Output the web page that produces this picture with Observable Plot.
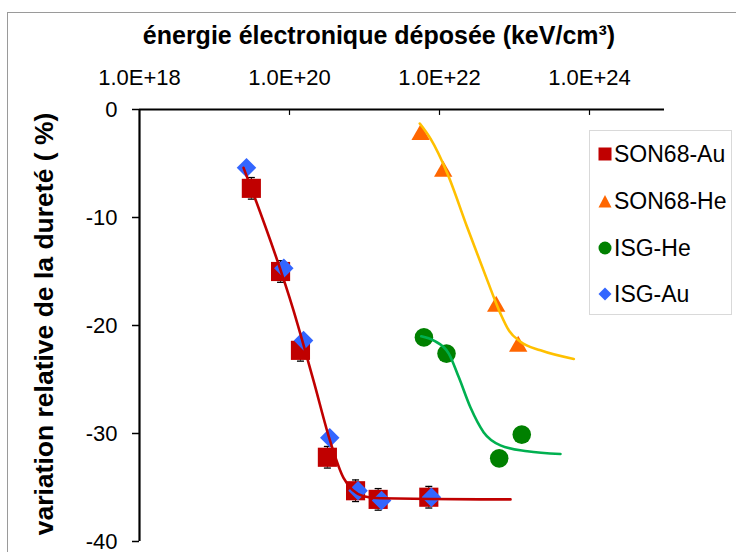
<!DOCTYPE html>
<html>
<head>
<meta charset="utf-8">
<script src="https://cdn.jsdelivr.net/npm/d3@7"></script>
<script src="https://cdn.jsdelivr.net/npm/@observablehq/plot@0.6"></script>
<style>
  html, body { margin: 0; padding: 0; background: #fff; }
  #wrap { position: relative; width: 736px; height: 552px; overflow: hidden; font-family: "Liberation Sans", Arial, sans-serif; }
  #chart > svg { position: absolute; left: 0; top: 0; }
  .bl { position: absolute; background: #9a9a9a; }
  #title { position: absolute; left: 0; width: 758px; top: 21px; text-align: center; font-weight: bold; font-size: 25px; color: #000; white-space: nowrap; }
  #ylab { position: absolute; left: 44px; top: 324px; transform: translate(-50%, -50%) rotate(-90deg); font-weight: bold; font-size: 26.5px; white-space: nowrap; color: #000; }
  #legend { position: absolute; left: 589px; top: 130px; width: 143px; height: 185px; border: 1px solid #d9d9d9; background: #fff; box-sizing: border-box; }
  .item { position: absolute; left: 8px; height: 26px; display: flex; align-items: center; font-size: 23px; color: #000; white-space: nowrap; }
  .item svg { margin-right: 2px; flex: none; }
</style>
</head>
<body>
<div id="wrap">
  <div class="bl" style="left:7px; top:12px; width:729px; height:1px;"></div>
  <div class="bl" style="left:7px; top:12px; width:1px; height:540px;"></div>
  <div id="chart"></div>
  <div id="title">énergie électronique déposée (keV/cm³)</div>
  <div id="ylab">variation relative de la dureté ( %)</div>
  <div id="legend"></div>
</div>
<script>
// ---- data ----
const xTicks = [1e18, 1e20, 1e22, 1e24];
const xTickLabels = ["1.0E+18", "1.0E+20", "1.0E+22", "1.0E+24"];
const yTicks = [0, -10, -20, -30, -40];
const yTickLabels = ["0", "-10", "-20", "-30", "-40"];

const seriesNames = ["SON68-Au", "SON68-He", "ISG-He", "ISG-Au"];

const son68AuX = [3.1e19, 7.6e19, 1.4e20, 3.2e20, 7.6e20, 1.52e21, 7.2e21];
const son68AuY = [-7.3, -15.0, -22.3, -32.2, -35.3, -36.1, -35.9];
const son68AuErr = [1.0, 1.0, 1.0, 1.0, 1.0, 1.0, 1.0];

const isgAuX = [2.67e19, 8.4e19, 1.54e20, 3.44e20, 8.2e20, 1.69e21, 7.8e21];
const isgAuY = [-5.4, -14.7, -21.4, -30.4, -35.3, -36.2, -35.9];

const son68HeX = [5.6e21, 1.12e22, 5.7e22, 1.12e23];
const son68HeY = [-2.1, -5.5, -18.0, -21.7];

const isgHeX = [6.2e21, 1.24e22, 6.25e22, 1.25e23];
const isgHeY = [-21.1, -22.6, -32.3, -30.1];

// trend curves, points
const fitAuX = [2.44e19, 1.13e20, 2.09e20, 3.52e20, 5.25e20, 9.7e20, 1.63e21, 3.5e22, 8.85e22];
const fitAuY = [-5.4, -18.6, -25.1, -30.8, -34.1, -35.8, -36.0, -36.1, -36.1];

const fitSonHeX = [5.46e21, 7.59e21, 1.27e22, 2.34e22, 4.33e22, 6.5e22, 8.4e22, 1.2e23, 2.22e23, 6.18e23];
const fitSonHeY = [-1.3, -2.7, -5.9, -10.9, -15.8, -18.9, -20.45, -21.5, -22.3, -23.1];

const fitIsgHeX = [5.7e21, 8.4e21, 1.33e22, 1.81e22, 2.59e22, 3.89e22, 6.5e22, 1.48e23, 4.1e23];
const fitIsgHeY = [-21.0, -21.4, -22.6, -24.8, -27.6, -29.9, -31.1, -31.65, -31.9];

const colors = { son68Au: "#c00000", son68He: "#ff6600", isgHe: "#008000", isgAu: "#3366ff",
                 fitAu: "#c00000", fitSonHe: "#ffc000", fitIsgHe: "#00b050" };

// ---- tables ----
const zip = (xs, ys) => xs.map((x, i) => ({ x, y: ys[i] }));
const son68Au = son68AuX.map((x, i) => ({ x, y: son68AuY[i], err: son68AuErr[i] }));
const isgAu = zip(isgAuX, isgAuY);
const son68He = zip(son68HeX, son68HeY);
const isgHe = zip(isgHeX, isgHeY);
const fitAu = zip(fitAuX, fitAuY);
const fitSonHe = zip(fitSonHeX, fitSonHeY);
const fitIsgHe = zip(fitIsgHeX, fitIsgHeY);

const capSymbol = { draw(ctx) { ctx.moveTo(-3.5, 0); ctx.lineTo(3.5, 0); } };

const chart = Plot.plot({
  width: 736,
  height: 552,
  marginTop: 109,
  marginBottom: 11,
  marginLeft: 139,
  marginRight: 72,
  style: { fontFamily: "'Liberation Sans', Arial, sans-serif", fontSize: "22px", background: "transparent", color: "#000", overflow: "visible" },
  x: { type: "log", domain: [1e18, 1e25] },
  y: { domain: [-40, 0] },
  marks: [
    // axes
    Plot.axisY(yTicks, { tickSize: 7, tickPadding: 15, tickFormat: d => yTickLabels[yTicks.indexOf(d)], fontSize: 22, strokeWidth: 1.5, label: null }),
    Plot.axisX(xTicks, { anchor: "top", tickSize: 0, tickPadding: 25, tickFormat: d => xTickLabels[xTicks.indexOf(d)], fontSize: 22, label: null }),
    Plot.ruleX(xTicks.slice(1), { y1: 0, y2: -0.55, stroke: "#000", strokeWidth: 1.2 }),
    Plot.ruleY([0], { stroke: "#000", strokeWidth: 2.2 }),
    Plot.ruleX([1e18], { y1: -40, y2: 0, stroke: "#000", strokeWidth: 2.2 }),
    // error bars
    Plot.ruleX(son68Au, { x: "x", y1: d => d.y - d.err, y2: d => d.y + d.err, stroke: "#000", strokeWidth: 1 }),
    Plot.dot(son68Au, { x: "x", y: d => d.y - d.err, symbol: capSymbol, stroke: "#000", strokeWidth: 1.3 }),
    Plot.dot(son68Au, { x: "x", y: d => d.y + d.err, symbol: capSymbol, stroke: "#000", strokeWidth: 1.3 }),
    // markers
    Plot.dot(son68Au, { x: "x", y: "y", symbol: "square", r: 10.8, fill: colors.son68Au }),
    Plot.dot(son68He, { x: "x", y: "y", symbol: "triangle", r: 6.8, dy: 2.5, fill: colors.son68He }),
    Plot.dot(isgHe, { x: "x", y: "y", symbol: "circle", r: 9.3, fill: colors.isgHe }),
    Plot.dot(isgAu, { x: "x", y: "y", symbol: "diamond2", r: 8.8, fill: colors.isgAu }),
    // trend curves
    Plot.line(fitAu, { x: "x", y: "y", stroke: colors.fitAu, strokeWidth: 2.6, curve: "monotone-x" }),
    Plot.line(fitSonHe, { x: "x", y: "y", stroke: colors.fitSonHe, strokeWidth: 2.6, curve: "monotone-x" }),
    Plot.line(fitIsgHe, { x: "x", y: "y", stroke: colors.fitIsgHe, strokeWidth: 2.6, curve: "monotone-x" })
  ]
});
document.getElementById("chart").appendChild(chart);

// ---- legend ----
const legendSymbols = {
  "SON68-Au": `<svg width="14" height="14"><rect x="0.5" y="0.5" width="13" height="13" fill="${colors.son68Au}"/></svg>`,
  "SON68-He": `<svg width="14" height="14"><path d="M7,1 L13.5,13.5 L0.5,13.5 Z" fill="${colors.son68He}"/></svg>`,
  "ISG-He": `<svg width="14" height="14"><circle cx="7" cy="7" r="6.5" fill="${colors.isgHe}"/></svg>`,
  "ISG-Au": `<svg width="14" height="14"><path d="M7,0.5 L13.5,7 L7,13.5 L0.5,7 Z" fill="${colors.isgAu}"/></svg>`
};
const legendTops = [10, 57, 104, 150];
const legend = document.getElementById("legend");
seriesNames.forEach((name, i) => {
  const div = document.createElement("div");
  div.className = "item";
  div.style.top = legendTops[i] + "px";
  div.innerHTML = legendSymbols[name] + `<span>${name}</span>`;
  legend.appendChild(div);
});
</script>
</body>
</html>
